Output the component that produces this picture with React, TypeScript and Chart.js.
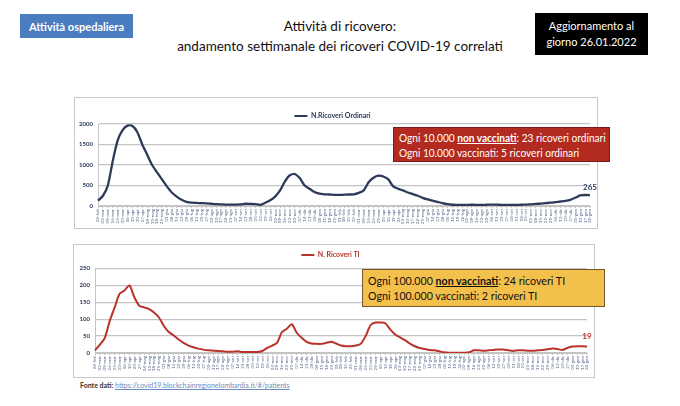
import React, { useEffect, useRef } from "react";
import { Chart, registerables } from "chart.js";

Chart.register(...registerables);

const weeks: string[] = [
  "24-feb", "02-mar", "09-mar", "16-mar", "23-mar", "30-mar", "06-apr", "13-apr", "20-apr", "27-apr",
  "04-mag", "11-mag", "18-mag", "25-mag", "01-giu", "08-giu", "15-giu", "22-giu", "29-giu", "06-lug",
  "13-lug", "20-lug", "27-lug", "03-ago", "10-ago", "17-ago", "24-ago", "31-ago", "07-set", "14-set",
  "21-set", "28-set", "05-ott", "12-ott", "19-ott", "26-ott", "02-nov", "09-nov", "16-nov", "23-nov",
  "30-nov", "07-dic", "14-dic", "21-dic", "28-dic", "04-gen", "11-gen", "18-gen", "25-gen", "01-feb",
  "08-feb", "15-feb", "22-feb", "01-mar", "08-mar", "15-mar", "22-mar", "29-mar", "05-apr", "12-apr",
  "19-apr", "26-apr", "03-mag", "10-mag", "17-mag", "24-mag", "31-mag", "07-giu", "14-giu", "21-giu",
  "28-giu", "05-lug", "12-lug", "19-lug", "26-lug", "02-ago", "09-ago", "16-ago", "23-ago", "30-ago",
  "06-set", "13-set", "20-set", "27-set", "04-ott", "11-ott", "18-ott", "25-ott", "01-nov", "08-nov",
  "15-nov", "22-nov", "29-nov", "06-dic", "13-dic", "20-dic", "27-dic", "03-gen", "10-gen", "17-gen",
  "24-gen",
];

const ricoveriOrdinari: number[] = [
  130, 250, 500, 1100, 1600, 1850, 1960, 1950, 1800, 1500,
  1250, 1000, 820, 650, 480, 330, 230, 150, 100, 80,
  75, 70, 65, 55, 45, 40, 35, 35, 35, 40,
  55, 50, 45, 30, 80, 140, 230, 380, 600, 750,
  780, 680, 500, 420, 340, 300, 285, 280, 270, 270,
  275, 280, 285, 320, 380, 580, 690, 740, 720, 650,
  480, 420, 380, 330, 290, 250, 200, 160, 130, 100,
  70, 45, 30, 25, 25, 28, 30, 28, 25, 30,
  35, 32, 28, 25, 25, 28, 30, 35, 42, 50,
  60, 70, 80, 95, 110, 125, 150, 200, 260, 268,
  265,
];

const ricoveriTI: number[] = [
  8, 25, 45, 95, 135, 175, 185, 200, 165, 140,
  135, 130, 120, 105, 80, 62, 52, 40, 30, 22,
  17, 13, 10, 8, 7, 6, 5, 4, 4, 5,
  3, 3, 3, 3, 6, 15, 22, 30, 62, 72,
  85, 60, 45, 33, 28, 27, 27, 30, 33, 28,
  22, 20, 20, 22, 27, 50, 82, 90, 90, 88,
  70, 55, 46, 38, 28, 20, 15, 12, 9, 8,
  5, 2, 1, 1, 1, 1, 2, 8, 8, 7,
  8, 9, 10, 10, 8, 6, 8, 8, 7, 7,
  8, 9, 11, 13, 12, 9, 15, 19, 20, 20,
  19,
];

const ordinariTicks = { max: 2000, step: 500 };
const tiTicks = { max: 250, step: 50 };

const NAVY = "#2d3a5a";
const RED = "#b8332a";
const GRID = "#c4c4c4";
const FONT = "Lato, 'Open Sans', sans-serif";

const lastValuePlugin = {
  id: "lastValue",
  afterDatasetsDraw(chart: any, _args: any, opts: any) {
    const meta = chart.getDatasetMeta(0);
    const pt = meta.data[meta.data.length - 1];
    const data = chart.data.datasets[0].data;
    const v = data[data.length - 1];
    if (!pt) return;
    const ctx = chart.ctx;
    ctx.save();
    ctx.font = `bold ${opts.size}px ${FONT}`;
    ctx.fillStyle = opts.color;
    ctx.textAlign = "center";
    ctx.textBaseline = "bottom";
    ctx.fillText(String(v), pt.x, pt.y - opts.offset);
    ctx.restore();
  },
};

type LineChartProps = {
  label: string;
  values: number[];
  color: string;
  lineWidth: number;
  max: number;
  step: number;
  yWidth: number;
  xHeight: number;
  padTop: number;
  legendHeight: number;
  width: number;
  height: number;
  valueOffset: number;
};

function LineChart(p: LineChartProps) {
  const ref = useRef<HTMLCanvasElement | null>(null);
  useEffect(() => {
    if (!ref.current) return;
    const chart = new Chart(ref.current, {
      type: "line",
      data: {
        labels: weeks,
        datasets: [
          {
            label: p.label,
            data: p.values,
            borderColor: p.color,
            backgroundColor: p.color,
            borderWidth: p.lineWidth,
            pointRadius: 0,
            tension: 0.25,
            fill: false,
          },
        ],
      },
      plugins: [lastValuePlugin],
      options: {
        animation: false,
        responsive: true,
        maintainAspectRatio: false,
        layout: { padding: { top: p.padTop, right: 7, left: 0, bottom: 0 } },
        plugins: {
          tooltip: { enabled: false },
          legend: {
            display: true,
            position: "top",
            align: "center",
            maxHeight: p.legendHeight,
            labels: {
              color: p.color,
              boxWidth: 13,
              boxHeight: 2,
              padding: 2,
              font: { size: 7, weight: "bold", family: FONT },
              generateLabels: (chart: any) =>
                Chart.defaults.plugins.legend.labels
                  .generateLabels(chart)
                  .map((l: any) => ({ ...l, lineWidth: 0 })),
            },
          },
          lastValue: { color: p.color, size: 8, offset: p.valueOffset },
        } as any,
        scales: {
          x: {
            afterFit: (s: any) => {
              s.height = p.xHeight;
            },
            grid: {
              drawOnChartArea: false,
              drawTicks: true,
              tickLength: 2,
              color: GRID,
            },
            border: { display: true, color: GRID },
            ticks: {
              autoSkip: false,
              minRotation: 90,
              maxRotation: 90,
              padding: 1,
              color: "#5a6a8c",
              font: { size: 4.5, family: FONT },
            },
          },
          y: {
            min: 0,
            max: p.max,
            afterFit: (s: any) => {
              s.width = p.yWidth;
            },
            grid: { color: GRID, lineWidth: 1.3, drawTicks: false },
            border: { display: true, color: GRID },
            ticks: {
              stepSize: p.step,
              padding: 5,
              color: NAVY,
              font: { size: 6, weight: "bold", family: FONT },
              callback: (v: any) => String(v),
            },
          },
        },
      },
    });
    return () => chart.destroy();
  }, []);
  return (
    <div style={{ position: "relative", width: p.width, height: p.height }}>
      <canvas ref={ref} />
    </div>
  );
}

const squeeze = (k: number): React.CSSProperties => ({
  display: "inline-block",
  transform: `scaleX(${k})`,
  transformOrigin: "left center",
});

export default function App() {
  return (
    <div
      style={{
        position: "absolute",
        left: 0,
        top: 0,
        width: 680,
        height: 406,
        background: "#ffffff",
        overflow: "hidden",
        fontFamily: FONT,
      }}
    >
      <div
        style={{
          position: "absolute",
          left: 20,
          top: 14,
          width: 113,
          height: 24,
          background: "#4a7cc0",
          color: "#fff",
          fontSize: 11,
          fontWeight: "bold",
          display: "flex",
          alignItems: "center",
          justifyContent: "center",
        }}
      >
        Attività ospedaliera
      </div>
      <div
        style={{
          position: "absolute",
          left: 140,
          top: 16,
          width: 400,
          textAlign: "center",
          fontSize: 13.5,
          lineHeight: "20px",
          color: "#111",
        }}
      >
        Attività di ricovero:
        <br />
        andamento settimanale dei ricoveri COVID-19 correlati
      </div>
      <div
        style={{
          position: "absolute",
          left: 535,
          top: 13,
          width: 113,
          height: 42,
          background: "#000",
          color: "#fff",
          fontSize: 11,
          lineHeight: "16px",
          display: "flex",
          alignItems: "center",
          justifyContent: "center",
          textAlign: "center",
        }}
      >
        Aggiornamento al
        <br />
        giorno 26.01.2022
      </div>

      <div
        style={{
          position: "absolute",
          left: 74,
          top: 97,
          width: 522,
          height: 130,
          border: "1px solid #c8c8c8",
        }}
      >
        <LineChart
          label="N.Ricoveri Ordinari"
          values={ricoveriOrdinari}
          color={NAVY}
          lineWidth={2.3}
          max={ordinariTicks.max}
          step={ordinariTicks.step}
          yWidth={23}
          xHeight={22}
          padTop={12.5}
          legendHeight={13.5}
          width={522}
          height={130}
          valueOffset={4}
        />
      </div>

      <div
        style={{
          position: "absolute",
          left: 73,
          top: 244,
          width: 520,
          height: 132,
          border: "1px solid #c8c8c8",
        }}
      >
        <LineChart
          label="N. Ricoveri TI"
          values={ricoveriTI}
          color={RED}
          lineWidth={2}
          max={tiTicks.max}
          step={tiTicks.step}
          yWidth={21}
          xHeight={24}
          padTop={4.5}
          legendHeight={20.5}
          width={520}
          height={132}
          valueOffset={6}
        />
      </div>

      <div
        style={{
          position: "absolute",
          left: 393,
          top: 127,
          width: 217,
          height: 35,
          boxSizing: "border-box",
          background: "#b22a20",
          border: "1px solid #7a1a14",
          color: "#fff",
          fontSize: 11,
          lineHeight: "15px",
          padding: "2px 0 0 5px",
          whiteSpace: "nowrap",
        }}
      >
        <span style={squeeze(0.92)}>
          Ogni 10.000 <b style={{ textDecoration: "underline" }}>non vaccinati</b>: 23 ricoveri ordinari
        </span>
        <br />
        <span style={squeeze(0.92)}>Ogni 10.000 vaccinati: 5 ricoveri ordinari</span>
      </div>

      <div
        style={{
          position: "absolute",
          left: 362,
          top: 269,
          width: 243,
          height: 38,
          boxSizing: "border-box",
          background: "#f4c04c",
          border: "1px solid #6e5a2a",
          color: "#111",
          fontSize: 11,
          lineHeight: "15px",
          padding: "3px 0 0 5px",
          whiteSpace: "nowrap",
        }}
      >
        <span style={squeeze(0.97)}>
          Ogni 100.000 <b style={{ textDecoration: "underline" }}>non vaccinati</b>: 24 ricoveri TI
        </span>
        <br />
        <span style={squeeze(0.97)}>Ogni 100.000 vaccinati: 2 ricoveri TI</span>
      </div>

      <div
        style={{
          position: "absolute",
          left: 80,
          top: 381,
          fontSize: 7,
          color: "#333",
          whiteSpace: "nowrap",
        }}
      >
        <b>Fonte dati: </b>
        <span style={{ color: "#6a8cc0", textDecoration: "underline" }}>
          https://covid19.blockchainregionelombardia.it/#/patients
        </span>
      </div>
    </div>
  );
}
